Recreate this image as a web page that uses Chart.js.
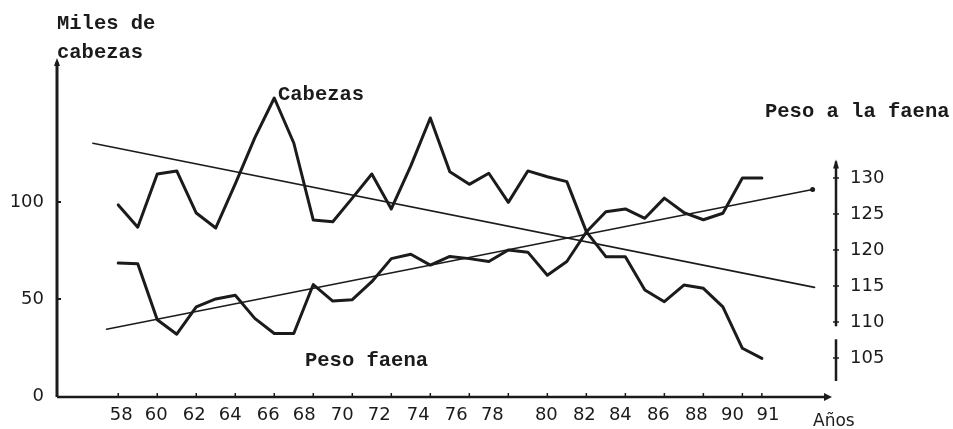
<!DOCTYPE html>
<html>
<head>
<meta charset="utf-8">
<script src="https://cdn.jsdelivr.net/npm/chart.js@4.4.1/dist/chart.umd.min.js"></script>
<style>
    body{ margin:0; background:#fff; }
    canvas{ display:block; }
</style>
</head>
<body>
<canvas id="chart" width="953" height="429"></canvas>
<script>

// DATA
const years = [58,59,60,61,62,63,64,65,66,67,68,69,70,71,72,73,74,75,76,77,78,79,80,81,82,83,84,85,86,87,88,89,90,91];

// miles de cabezas (eje izquierdo)
const cabezas = [98.5,87,114.4,116,94.3,86.6,109.3,133,153.6,130.4,90.7,89.8,102,114.4,96.4,118.6,143.3,115.6,109.1,114.8,99.8,116,113,110.5,84.7,71.8,71.8,54.6,48.6,57.2,55.5,45.9,24.6,19.4];

// peso a la faena (eje derecho)
const pesoFaena = [118.2,118.1,110.3,108.3,112.1,113.2,113.7,110.5,108.4,108.4,115.2,112.9,113.1,115.6,118.8,119.4,117.9,119.1,118.8,118.4,120,119.7,116.5,118.4,122.5,125.3,125.7,124.4,127.2,125.2,124.2,125.1,130,130];

// tendencias
const cabezasTrendYears = [56.7,93.7];
const cabezasTrend = [130.3,56];
const pesoTrendYears = [57.4,93.6];
const pesoTrend = [109,128.4];

// tick labels
const xTicks = [58,60,62,64,66,68,70,72,74,76,78,80,82,84,86,88,90,91];
const leftTicks = [0,50,100];
const rightTicks = [105,110,115,120,125,130];


const ink = '#1b1b1b';
const monoFont = 'bold 20.5px "Liberation Mono", "Courier New", monospace';
const tickFont = { family:'"DejaVu Sans", Arial, sans-serif', size:18 };

// the printed year labels sit a little off their tick marks
const xLabelNudge = [3,-1,-2,-5,-6,-9,-10,-12,-12,-13,-16,-1,-2,-5,-6,-7,-10,6];

function points(xs, ys){
    return xs.map((x, i) => ({ x:x, y:ys[i] }));
}


// axes, arrows and texts drawn by hand
const decorations = {

    id:'decorations',

    beforeDraw(chart){
        const ctx = chart.ctx;
        ctx.save();
        ctx.fillStyle = '#fff';
        ctx.fillRect(0, 0, chart.width, chart.height);
        ctx.restore();
    },

    afterDraw(chart){

        const ctx = chart.ctx;
        const x = chart.scales.x;
        const yl = chart.scales.y;
        const yr = chart.scales.y2;
        const area = chart.chartArea;

        ctx.save();
        ctx.strokeStyle = ink;
        ctx.fillStyle = ink;
        ctx.lineCap = 'butt';

        // left axis
        ctx.lineWidth = 3;
        ctx.beginPath();
        ctx.moveTo(area.left, area.bottom + 1);
        ctx.lineTo(area.left, 62);
        ctx.stroke();
        ctx.beginPath();
        ctx.moveTo(area.left - 3, 66);
        ctx.lineTo(area.left, 58);
        ctx.lineTo(area.left + 3, 66);
        ctx.fill();

        ctx.lineWidth = 2;
        leftTicks.slice(1).forEach(v => {
            const py = yl.getPixelForValue(v);
            ctx.beginPath();
            ctx.moveTo(area.left, py);
            ctx.lineTo(area.left + 4, py);
            ctx.stroke();
        });

        // bottom axis
        ctx.lineWidth = 2.5;
        ctx.beginPath();
        ctx.moveTo(area.left, area.bottom + 1);
        ctx.lineTo(826, area.bottom + 1);
        ctx.stroke();
        ctx.beginPath();
        ctx.moveTo(824, area.bottom - 3);
        ctx.lineTo(832, area.bottom + 1);
        ctx.lineTo(824, area.bottom + 5);
        ctx.fill();

        ctx.lineWidth = 1.5;
        xTicks.forEach(v => {
            const px = x.getPixelForValue(v);
            ctx.beginPath();
            ctx.moveTo(px, area.bottom - 3);
            ctx.lineTo(px, area.bottom + 1);
            ctx.stroke();
        });

        // year labels
        ctx.font = '18px "DejaVu Sans", Arial, sans-serif';
        ctx.textAlign = 'center';
        ctx.textBaseline = 'alphabetic';
        xTicks.forEach((v, i) => {
            ctx.fillText(String(v), x.getPixelForValue(v) + xLabelNudge[i], 420);
        });

        // right axis (broken between 110 and 105)
        ctx.lineWidth = 2.5;
        [[132.3,109.4],[107.6,101.8]].forEach(seg => {
            ctx.beginPath();
            ctx.moveTo(area.right, yr.getPixelForValue(seg[0]));
            ctx.lineTo(area.right, yr.getPixelForValue(seg[1]));
            ctx.stroke();
        });
        const top = yr.getPixelForValue(132.3);
        ctx.beginPath();
        ctx.moveTo(area.right - 3, top + 7);
        ctx.lineTo(area.right, top - 2);
        ctx.lineTo(area.right + 3, top + 7);
        ctx.fill();

        ctx.lineWidth = 1.5;
        rightTicks.forEach(v => {
            const py = yr.getPixelForValue(v);
            ctx.beginPath();
            ctx.moveTo(area.right - 3, py);
            ctx.lineTo(area.right + 3, py);
            ctx.stroke();
        });

        // texts
        ctx.font = monoFont;
        ctx.textBaseline = 'alphabetic';
        ctx.textAlign = 'left';
        ctx.fillText('Miles de', 57, 29);
        ctx.fillText('cabezas', 57, 58);
        ctx.fillText('Cabezas', 278, 100);
        ctx.fillText('Peso faena', 305, 366);
        ctx.fillText('Peso a la faena', 765, 117);

        ctx.font = '17px "DejaVu Sans", Arial, sans-serif';
        ctx.fillText('Años', 813, 426);

        ctx.restore();
    }

};


new Chart(

document.getElementById('chart'),

{

    type:'line',

    data:{

        datasets:[

            {
                label:'Cabezas',
                data:points(years, cabezas),
                yAxisID:'y',
                borderColor:ink,
                borderWidth:3,
                pointRadius:0
            },

            {
                label:'Peso faena',
                data:points(years, pesoFaena),
                yAxisID:'y2',
                borderColor:ink,
                borderWidth:3,
                pointRadius:0
            },

            {
                label:'Tendencia cabezas',
                data:points(cabezasTrendYears, cabezasTrend),
                yAxisID:'y',
                borderColor:ink,
                borderWidth:1.6,
                pointRadius:0
            },

            {
                label:'Tendencia peso',
                data:points(pesoTrendYears, pesoTrend),
                yAxisID:'y2',
                borderColor:ink,
                borderWidth:1.6,
                pointRadius:[0,2.5],
                pointBackgroundColor:ink,
                pointBorderWidth:0
            }

        ]

    },

    options:{

        responsive:false,
        animation:false,
        devicePixelRatio:1,

        layout:{ padding:{ top:65, left:0, right:0, bottom:0 } },

        elements:{
            line:{ tension:0, borderJoinStyle:'round', borderCapStyle:'round' }
        },

        plugins:{
            legend:{ display:false },
            tooltip:{ enabled:false }
        },

        scales:{

            x:{
                type:'linear',
                min:54.86,
                max:94.8,
                grid:{ display:false, drawTicks:false },
                border:{ display:false },
                afterBuildTicks:s => { s.ticks = xTicks.map(v => ({ value:v })); },
                afterFit:s => { s.height = 33; },
                ticks:{ display:false }
            },

            y:{
                position:'left',
                min:0,
                max:170.6,
                grid:{ display:false, drawTicks:false },
                border:{ display:false },
                afterBuildTicks:s => { s.ticks = leftTicks.map(v => ({ value:v })); },
                afterFit:s => { s.width = 57; },
                ticks:{ font:tickFont, color:ink, padding:13 }
            },

            y2:{
                position:'right',
                min:99.72,
                max:145.69,
                grid:{ display:false, drawTicks:false },
                border:{ display:false },
                afterBuildTicks:s => { s.ticks = rightTicks.map(v => ({ value:v })); },
                afterFit:s => { s.width = 117; },
                ticks:{ font:tickFont, color:ink, padding:14 }
            }

        }

    },

    plugins:[decorations]

});

</script>
</body>
</html>
